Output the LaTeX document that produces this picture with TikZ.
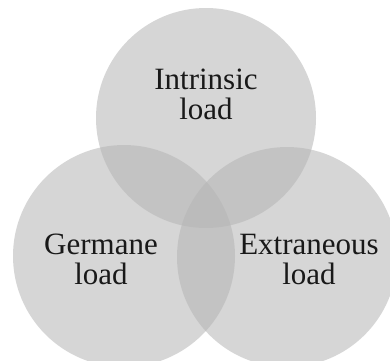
\documentclass[tikz,border=0pt]{standalone}
\usepackage{fontspec}
\setmainfont{Liberation Serif}
\usepackage{tikz}
\definecolor{loadgray}{gray}{0.71}
\definecolor{inkgray}{gray}{0.1}

\begin{document}
\begin{tikzpicture}[x=1pt, y=-1pt]
  \useasboundingbox (0, 0) rectangle (390, 360);
  \fill [white] (0, 0) rectangle (390, 360);

  % the three loads
  \begin{scope}[fill=loadgray, fill opacity=0.55]
    \fill (206, 118) circle [radius=110pt];
    \fill (124, 256) circle [radius=111pt];
    \fill (287, 257) circle [radius=110pt];
  \end{scope}

  \begin{scope}[font=\fontsize{31}{30}\selectfont, text=inkgray, align=center]
    \node (intrinsic) at (206, 94) { Intrinsic\\load };
    \node (germane) at (101, 259) { Germane\\load };
    \node (extraneous) at (309, 259) { Extraneous\\load };
  \end{scope}
\end{tikzpicture}
\end{document}
